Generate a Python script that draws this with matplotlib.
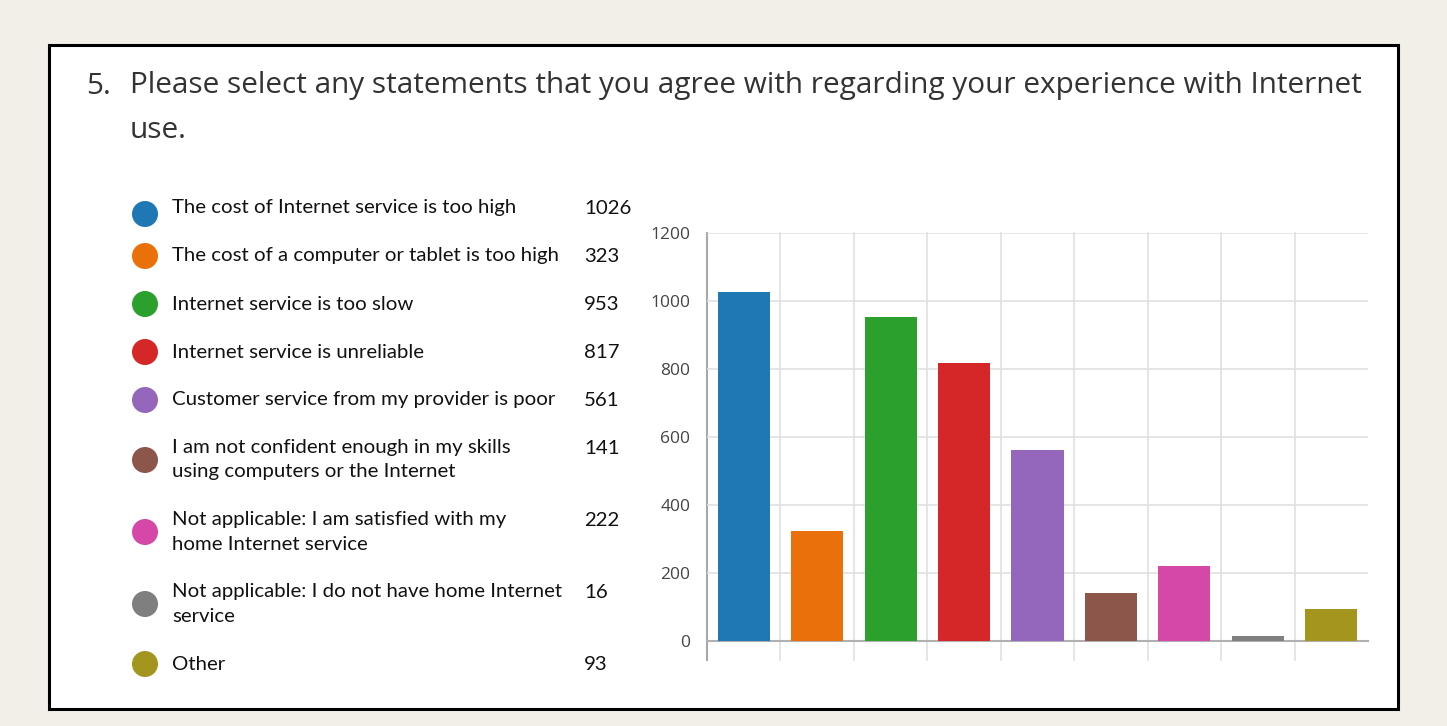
import matplotlib

matplotlib.use("Agg")
import matplotlib.pyplot as plt
from matplotlib.patches import Circle, Rectangle

W, H = 1447, 726

# --------------------------------------------------------------------------- #
# Data
# --------------------------------------------------------------------------- #
question_no = "5."
question = ["Please select any statements that you agree with regarding your experience with Internet",
            "use."]
labels = [
    "The cost of Internet service is too high",
    "The cost of a computer or tablet is too high",
    "Internet service is too slow",
    "Internet service is unreliable",
    "Customer service from my provider is poor",
    "I am not confident enough in my skills\nusing computers or the Internet",
    "Not applicable: I am satisfied with my\nhome Internet service",
    "Not applicable: I do not have home Internet\nservice",
    "Other",
]
counts = [1026, 323, 953, 817, 561, 141, 222, 16, 93]
colors = ["#1f77b4", "#e9700a", "#2ca02c", "#d62728", "#9467bd",
          "#8c564b", "#d548a8", "#7f7f7f", "#a3951d"]
yticks = [0, 200, 400, 600, 800, 1000, 1200]

# --------------------------------------------------------------------------- #
# Figure / frame (pixel coordinates on a full-size overlay axes)
# --------------------------------------------------------------------------- #
fig = plt.figure(figsize=(W / 100, H / 100), dpi=100, facecolor="#f2efe8")
bg = fig.add_axes([0, 0, 1, 1])
bg.set_xlim(0, W); bg.set_ylim(H, 0); bg.axis("off")
bg.add_patch(Rectangle((49, 45), 1349, 664, facecolor="white", edgecolor="black", lw=2.2))

title_font = dict(family=["Open Sans", "DejaVu Sans"], fontsize=21.4, color="#333333", va="center")
bg.text(86, 87, question_no, **title_font)
for i, line in enumerate(question):
    bg.text(130, 86 + 45 * i, line, **title_font)

# legend list
leg_font = dict(family=["Lato", "DejaVu Sans"], fontsize=14.7, color="#111111", va="center")
row_y = [208, 256, 304, 352, 400, 448, 520, 592, 664]
dot_dy = [6, 0, 0, 0, 0, 0, 0, 0, 0]
for lab, n, c, y, dy in zip(labels, counts, colors, row_y, dot_dy):
    lines = lab.split("\n")
    bg.add_patch(Circle((145, y + 12 * (len(lines) - 1) + dy), 13, color=c, lw=0))
    for k, line in enumerate(lines):
        bg.text(172, y + 24 * k, line, **leg_font)
    bg.text(584, y, str(n), **leg_font)

# --------------------------------------------------------------------------- #
# Bar chart
# --------------------------------------------------------------------------- #
ax = fig.add_axes([707 / W, (H - 641) / H, (1368 - 707) / W, (641 - 233) / H])
x = range(len(counts))
ax.bar(x, counts, width=0.71, color=colors, zorder=3)
ax.set_xlim(-0.5, len(counts) - 0.5)
ax.set_ylim(0, 1200)
ax.set_yticks(yticks)
ax.set_xticks([])
ax.yaxis.grid(True, color="#e0e0e0", lw=1.2, zorder=0)
for i in range(len(counts)):
    ax.axvline(i - 0.5, ymin=-0.047, ymax=1, color="#a8a8a8" if i == 0 else "#e0e0e0",
               lw=1.5 if i == 0 else 1.2, clip_on=False, zorder=1)
for s in ["top", "right", "left"]:
    ax.spines[s].set_visible(False)
ax.spines["bottom"].set_color("#b0b0b0")
ax.spines["bottom"].set_linewidth(1.5)
ax.tick_params(axis="y", length=0, pad=12, labelsize=12.5, labelcolor="#444444")
for t in ax.get_yticklabels():
    t.set_family(["Open Sans", "DejaVu Sans"])

fig.savefig("out.png", dpi=100, facecolor=fig.get_facecolor())
